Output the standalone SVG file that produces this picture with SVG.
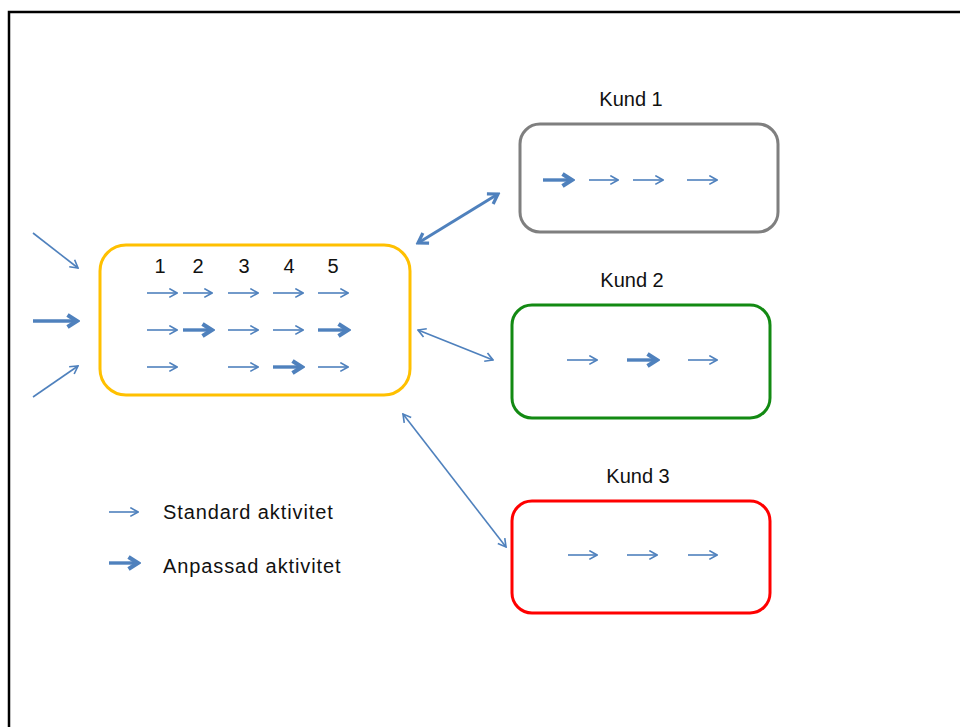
<svg xmlns="http://www.w3.org/2000/svg" width="960" height="727" viewBox="0 0 960 727">
<style>
.t{fill:none;stroke:#4F81BD;stroke-width:1.6;marker-end:url(#ht)}
.k{fill:none;stroke:#4F81BD;stroke-width:3.4;marker-end:url(#hk)}
.d{fill:none;stroke:#4F81BD;stroke-width:1.6;marker-end:url(#ht);marker-start:url(#ht)}
.dk{fill:none;stroke:#4F81BD;stroke-width:3;marker-end:url(#hd);marker-start:url(#hd)}
.lbl{font-family:"Liberation Sans",Arial,sans-serif;font-size:20px;fill:#111}
.leg{letter-spacing:0.9px}
.box{fill:#fff;stroke-width:3}
</style>
<defs>
<marker id="ht" viewBox="0 0 10 10" refX="9" refY="5" markerWidth="11" markerHeight="11" markerUnits="userSpaceOnUse" orient="auto-start-reverse"><path d="M2,1 L9,5 L2,9" fill="none" stroke="#4F81BD" stroke-width="1.5"/></marker>
<marker id="hk" viewBox="0 0 10 10" refX="8.5" refY="5" markerWidth="19" markerHeight="19" markerUnits="userSpaceOnUse" orient="auto-start-reverse"><path d="M3.5,1.8 L8.5,5 L3.5,8.2" fill="none" stroke="#4F81BD" stroke-width="2.2" stroke-linejoin="miter"/></marker>
<marker id="hd" viewBox="0 0 10 10" refX="8.5" refY="5" markerWidth="17" markerHeight="17" markerUnits="userSpaceOnUse" orient="auto-start-reverse"><path d="M3,1.5 L8.5,5 L3,8.5" fill="none" stroke="#4F81BD" stroke-width="1.9"/></marker>
</defs>
<rect x="0" y="0" width="960" height="727" fill="#fff"/>
<rect x="9" y="12" width="980" height="740" fill="none" stroke="#000" stroke-width="2.5"/>

<g id="process">
<rect class="box" x="100" y="245" width="310" height="150" rx="26" stroke="#FFC000"/>
<text class="lbl" x="160" y="273" text-anchor="middle">1</text>
<text class="lbl" x="198" y="273" text-anchor="middle">2</text>
<text class="lbl" x="244" y="273" text-anchor="middle">3</text>
<text class="lbl" x="289" y="273" text-anchor="middle">4</text>
<text class="lbl" x="333" y="273" text-anchor="middle">5</text>
<line class="t" x1="147" y1="293" x2="177" y2="293"/>
<line class="t" x1="183" y1="293" x2="212" y2="293"/>
<line class="t" x1="228" y1="293" x2="258" y2="293"/>
<line class="t" x1="273" y1="293" x2="303" y2="293"/>
<line class="t" x1="318" y1="293" x2="348" y2="293"/>
<line class="t" x1="147" y1="330" x2="177" y2="330"/>
<line class="k" x1="183" y1="330" x2="212" y2="330"/>
<line class="t" x1="228" y1="330" x2="258" y2="330"/>
<line class="t" x1="273" y1="330" x2="303" y2="330"/>
<line class="k" x1="318" y1="330" x2="348" y2="330"/>
<line class="t" x1="147" y1="367" x2="177" y2="367"/>
<line class="t" x1="228" y1="367" x2="258" y2="367"/>
<line class="k" x1="273" y1="367" x2="302" y2="367"/>
<line class="t" x1="318" y1="367" x2="348" y2="367"/>
</g>

<g id="kund1">
<text class="lbl" x="631" y="106" text-anchor="middle">Kund 1</text>
<rect class="box" x="520" y="124" width="258" height="108" rx="20" stroke="#7F7F7F"/>
<line class="k" x1="543" y1="180" x2="572" y2="180"/>
<line class="t" x1="589" y1="180" x2="618" y2="180"/>
<line class="t" x1="633" y1="180" x2="663" y2="180"/>
<line class="t" x1="687" y1="180" x2="717" y2="180"/>
</g>

<g id="kund2">
<text class="lbl" x="632" y="287" text-anchor="middle">Kund 2</text>
<rect class="box" x="512" y="305" width="258" height="113" rx="20" stroke="#138A13"/>
<line class="t" x1="567" y1="360" x2="597" y2="360"/>
<line class="k" x1="627" y1="360" x2="657" y2="360"/>
<line class="t" x1="688" y1="360" x2="717" y2="360"/>
</g>

<g id="kund3">
<text class="lbl" x="638" y="483" text-anchor="middle">Kund 3</text>
<rect class="box" x="512" y="501" width="258" height="112" rx="20" stroke="#FF0000"/>
<line class="t" x1="568" y1="555" x2="597" y2="555"/>
<line class="t" x1="627" y1="555" x2="657" y2="555"/>
<line class="t" x1="688" y1="555" x2="717" y2="555"/>
</g>

<g id="legend">
<line class="t" x1="109" y1="512" x2="138" y2="512"/>
<text class="lbl leg" x="163" y="519">Standard aktivitet</text>
<line class="k" x1="109" y1="563" x2="138" y2="563"/>
<text class="lbl leg" x="163" y="573">Anpassad aktivitet</text>
</g>

<g id="connectors">
<line class="t" x1="33" y1="233" x2="78" y2="268"/>
<line class="k" x1="33" y1="321" x2="77" y2="321"/>
<line class="t" x1="33" y1="397" x2="78" y2="366"/>
<line class="dk" x1="418" y1="243" x2="498" y2="194"/>
<line class="d" x1="418" y1="330" x2="493" y2="360"/>
<line class="d" x1="403" y1="414" x2="506" y2="547"/>
</g>
</svg>
